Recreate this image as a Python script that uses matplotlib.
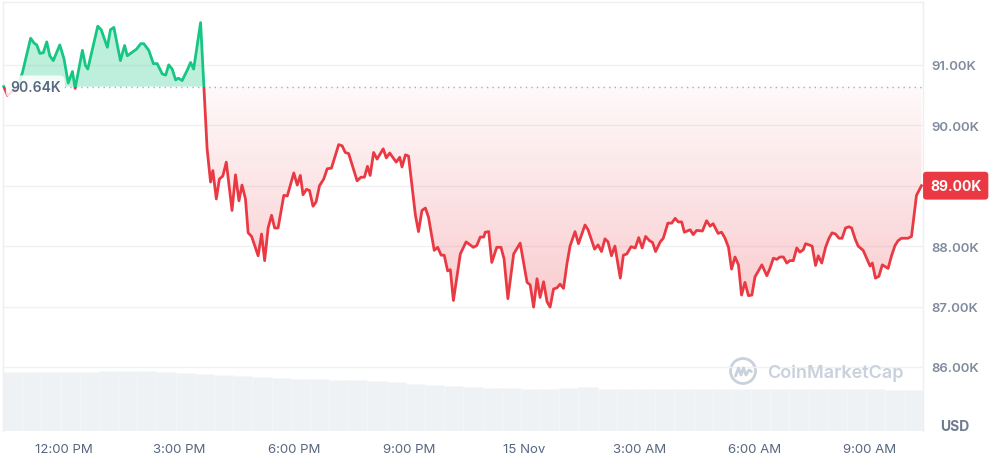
import matplotlib
matplotlib.use("Agg")
import matplotlib.pyplot as plt
import numpy as np
from matplotlib.patches import Rectangle, Circle
from matplotlib.path import Path
from matplotlib.colors import LinearSegmentedColormap
import matplotlib.transforms as mtransforms

plt.rcParams['font.family'] = ['Inter', 'DejaVu Sans']

# ---- data (hours since 14 Nov 00:00, price in thousands USD) ----
hours = [10.44, 10.54, 10.67, 10.80, 10.93, 11.14, 11.23, 11.30, 11.38, 11.47,
         11.56, 11.64, 11.73, 11.90, 12.01, 12.12, 12.23, 12.30, 12.49, 12.57,
         12.63, 12.89, 12.98, 13.14, 13.22, 13.31, 13.48, 13.59, 13.66, 13.79,
         13.90, 14.01, 14.09, 14.22, 14.34, 14.44, 14.57, 14.66, 14.74, 14.83,
         14.92, 14.99, 15.09, 15.22, 15.31, 15.39, 15.57, 15.74, 15.83, 15.89,
         15.98, 16.06, 16.15, 16.24, 16.39, 16.48, 16.57, 16.65, 16.74, 16.81,
         16.90, 17.07, 17.16, 17.24, 17.33, 17.42, 17.50, 17.59, 17.74, 17.83,
         18.00, 18.09, 18.17, 18.24, 18.33, 18.41, 18.50, 18.58, 18.67, 18.78,
         18.87, 18.98, 19.17, 19.26, 19.34, 19.43, 19.65, 19.75, 19.84, 19.92,
         19.99, 20.08, 20.17, 20.33, 20.41, 20.50, 20.67, 20.76, 20.82, 20.91,
         20.99, 21.17, 21.25, 21.34, 21.43, 21.51, 21.66, 21.75, 21.84, 21.92,
         22.01, 22.08, 22.16, 22.34, 22.49, 22.68, 22.77, 22.86, 22.95, 22.99,
         23.08, 23.16, 23.29, 23.40, 23.48, 23.58, 23.73, 23.90, 24.08, 24.16,
         24.25, 24.34, 24.42, 24.51, 24.60, 24.68, 24.77, 24.86, 24.94, 25.03,
         25.12, 25.20, 25.33, 25.42, 25.59, 25.67, 25.84, 25.93, 26.02, 26.11,
         26.19, 26.28, 26.37, 26.51, 26.59, 26.68, 26.79, 26.90, 26.99, 27.08,
         27.17, 27.27, 27.35, 27.43, 27.55, 27.63, 27.75, 27.85, 27.94, 28.02,
         28.11, 28.18, 28.33, 28.41, 28.50, 28.65, 28.76, 28.85, 28.93, 29.06,
         29.15, 29.24, 29.33, 29.41, 29.50, 29.59, 29.67, 29.76, 29.85, 29.94,
         30.02, 30.20, 30.33, 30.41, 30.50, 30.59, 30.67, 30.76, 30.85, 30.93,
         31.02, 31.11, 31.19, 31.28, 31.34, 31.43, 31.51, 31.60, 31.67, 31.76,
         31.86, 31.95, 32.03, 32.12, 32.21, 32.29, 32.38, 32.47, 32.54, 32.63,
         32.71, 32.84, 32.93, 33.02, 33.08, 33.16, 33.25, 33.34, 33.49, 33.58,
         33.67, 33.75, 33.84, 34.01, 34.10, 34.23, 34.36]

prices = [90.64, 90.49, 90.57, 90.62, 90.88, 91.44, 91.36, 91.33, 91.19, 91.20,
          91.38, 91.15, 91.07, 91.33, 91.10, 90.70, 90.89, 90.61, 91.24, 90.99,
          90.93, 91.64, 91.58, 91.29, 91.58, 91.62, 91.07, 91.32, 91.15, 91.21,
          91.26, 91.35, 91.35, 91.24, 91.02, 91.02, 90.85, 90.83, 91.00, 90.93,
          90.75, 90.78, 90.74, 90.91, 91.04, 90.93, 91.70, 89.61, 89.06, 89.25,
          88.78, 89.11, 89.16, 89.39, 88.59, 89.18, 88.75, 89.01, 88.78, 88.22,
          88.16, 87.84, 88.20, 87.76, 88.30, 88.51, 88.30, 88.30, 88.84, 88.83,
          89.21, 89.01, 89.17, 88.85, 88.94, 88.92, 88.66, 88.73, 89.00, 89.11,
          89.28, 89.29, 89.68, 89.66, 89.55, 89.53, 89.08, 89.14, 89.14, 89.32,
          89.17, 89.55, 89.44, 89.61, 89.46, 89.54, 89.39, 89.47, 89.31, 89.51,
          89.49, 88.51, 88.24, 88.59, 88.63, 88.48, 87.93, 87.98, 87.85, 87.85,
          87.59, 87.61, 87.10, 87.87, 88.07, 87.98, 88.01, 88.15, 88.15, 88.23,
          88.24, 87.73, 87.98, 87.98, 87.79, 87.13, 87.87, 88.05, 87.40, 87.36,
          86.99, 87.46, 87.15, 87.41, 87.08, 86.99, 87.29, 87.31, 87.37, 87.30,
          87.71, 88.00, 88.24, 88.04, 88.35, 88.27, 87.95, 88.02, 87.91, 88.12,
          88.07, 87.84, 88.00, 87.47, 87.85, 87.87, 87.99, 87.97, 88.14, 87.97,
          88.16, 88.09, 88.06, 87.91, 88.07, 88.13, 88.38, 88.38, 88.46, 88.40,
          88.40, 88.23, 88.27, 88.19, 88.26, 88.25, 88.42, 88.33, 88.37, 88.21,
          88.23, 88.13, 87.98, 87.62, 87.82, 87.69, 87.19, 87.40, 87.18, 87.19,
          87.49, 87.69, 87.51, 87.63, 87.80, 87.78, 87.82, 87.82, 87.72, 87.76,
          87.76, 87.97, 87.90, 87.94, 88.04, 88.02, 88.00, 87.68, 87.84, 87.72,
          87.98, 88.13, 88.22, 88.20, 88.13, 88.13, 88.30, 88.32, 88.30, 88.12,
          88.00, 87.93, 87.80, 87.67, 87.72, 87.47, 87.50, 87.69, 87.63, 87.84,
          88.01, 88.09, 88.13, 88.13, 88.16, 88.84, 89.00]

# 24h volume (billions USD), one value per 30-minute bar
volume = [88.5, 88.5, 88.5, 88.5, 88.5, 89.3, 90.0, 89.3,
          87.8, 87.0, 85.5, 84.0, 82.5, 80.3, 79.5, 78.0,
          77.3, 76.5, 75.8, 74.3, 72.8, 70.5, 69.0, 66.8,
          65.3, 64.5, 63.8, 63.0, 63.0, 64.5, 65.3, 63.0,
          63.0, 63.0, 63.0, 63.0, 63.0, 63.0, 63.0, 63.0,
          63.0, 63.0, 63.0, 63.0, 63.0, 62.3, 61.5, 61.5]
vol_start = 10.42
vol_step = 0.5

baseline = 90.64
current = 89.00

y_ticks = [86, 87, 88, 89, 90, 91]
y_labels = ["86.00K", "87.00K", "88.00K", "", "90.00K", "91.00K"]  # 89.00K sits under the current-price tag
x_ticks = [12, 15, 18, 21, 24, 27, 30, 33]
x_labels = ["12:00 PM", "3:00 PM", "6:00 PM", "9:00 PM", "15 Nov",
            "3:00 AM", "6:00 AM", "9:00 AM"]

GREEN = "#16c784"
RED = "#ea3943"
XMIN, XMAX = 10.42, 34.40
YMIN, YMAX = 84.94, 92.04

W, H = 989, 460
fig = plt.figure(figsize=(W / 100, H / 100), dpi=100)
pos = [3 / W, 28 / H, 920 / W, 429 / H]

# volume axes (behind)
axv = fig.add_axes(pos, zorder=0)
vc = vol_start + vol_step / 2 + np.arange(len(volume)) * vol_step
axv.bar(vc, volume, width=vol_step, color="#eff2f5", edgecolor="#f5f7f9",
        linewidth=0.4)
axv.set_xlim(XMIN, XMAX)
axv.set_ylim(0, 643.5)
axv.axis("off")

ax = fig.add_axes(pos, zorder=1)
ax.set_facecolor("none")
ax.set_xlim(XMIN, XMAX)
ax.set_ylim(YMIN, YMAX)

xs = np.array(hours)
ys = np.array(prices)

# grid
ax.set_yticks(y_ticks)
ax.set_yticklabels(y_labels, fontweight="semibold")
ax.yaxis.tick_right()
ax.tick_params(axis="y", length=0, pad=6, labelsize=9.5, labelcolor="#808a9d")
ax.grid(axis="y", color="#eff1f4", linewidth=1)
ax.set_xticks(x_ticks)
ax.set_xticklabels(x_labels)
ax.tick_params(axis="x", length=0, pad=9, labelsize=9.5, labelcolor="#58667e")
for s in ["left", "top", "right"]:
    ax.spines[s].set_color("#eceff3")
    ax.spines[s].set_linewidth(1)
ax.spines["bottom"].set_visible(False)

# green fill above baseline
ax.fill_between(xs, ys, baseline, where=ys >= baseline, interpolate=True,
                color=GREEN, alpha=0.28, linewidth=0, zorder=2)

# red gradient fill below baseline
poly = ax.fill_between(xs, ys, baseline, where=ys <= baseline, interpolate=True,
                       facecolor="none", linewidth=0, zorder=2)
clip = Path.make_compound_path(*poly.get_paths())
cmap = LinearSegmentedColormap.from_list(
    "redgrad", [(0.918, 0.224, 0.263, 0.03), (0.918, 0.224, 0.263, 0.26)])
grad = np.linspace(0, 1, 256).reshape(-1, 1)
im = ax.imshow(grad, extent=[XMIN, XMAX, ys.min(), baseline], aspect="auto",
               cmap=cmap, zorder=2, interpolation="bilinear")
im.set_clip_path(clip, transform=ax.transData)
ax.set_xlim(XMIN, XMAX)
ax.set_ylim(YMIN, YMAX)

# baseline dotted line
ax.axhline(baseline, color="#a6b0c3", linewidth=1, linestyle=(0, (1, 3)), zorder=3)

# price line, coloured above / below baseline
lg, = ax.plot(xs, ys, color=GREEN, linewidth=2, zorder=4, solid_joinstyle="round")
lr, = ax.plot(xs, ys, color=RED, linewidth=2, zorder=4, solid_joinstyle="round")
lg.set_clip_path(Rectangle((XMIN - 1, baseline), XMAX - XMIN + 2, 20,
                           transform=ax.transData))
lr.set_clip_path(Rectangle((XMIN - 1, baseline - 20), XMAX - XMIN + 2, 20,
                           transform=ax.transData))

blend = mtransforms.blended_transform_factory(ax.transAxes, ax.transData)

# baseline label
ax.text(7 / 920, baseline, "90.64K", transform=blend, ha="left", va="center",
        fontsize=10, fontweight="semibold", color="#58667e", zorder=6,
        bbox=dict(boxstyle="round,pad=0.3,rounding_size=0.4", fc="white",
                  ec="none", alpha=0.85))

# current price label
ax.text(1 + 7 / 920, current, "89.00K", transform=blend, ha="left", va="center",
        fontsize=10, fontweight="bold", color="white", zorder=10, clip_on=False,
        bbox=dict(boxstyle="round,pad=0.5,rounding_size=0.25", fc=RED, ec="none"))

# USD label
fig.text(955 / W, 1 - 427 / H, "USD", ha="center", va="center",
         fontsize=10, fontweight="bold", color="#6f7a8f")

# watermark
wm = "#c9d1dd"
fig.text(767 / W, 1 - 373 / H, "CoinMarketCap", ha="left", va="center",
         fontsize=13, fontweight="semibold", color=wm)
fig.add_artist(Circle((7.43, (H - 372) / 100), 0.125, transform=fig.dpi_scale_trans,
                      fill=False, edgecolor=wm, linewidth=2))
wx = [7.355, 7.385, 7.41, 7.435, 7.46, 7.49, 7.515]
wy = [0.83, 0.91, 0.84, 0.91, 0.84, 0.89, 0.875]
fig.add_artist(plt.Line2D(wx, wy, transform=fig.dpi_scale_trans, color=wm,
                          linewidth=2, solid_joinstyle="round", solid_capstyle="round"))

fig.savefig("out.png", dpi=100)
